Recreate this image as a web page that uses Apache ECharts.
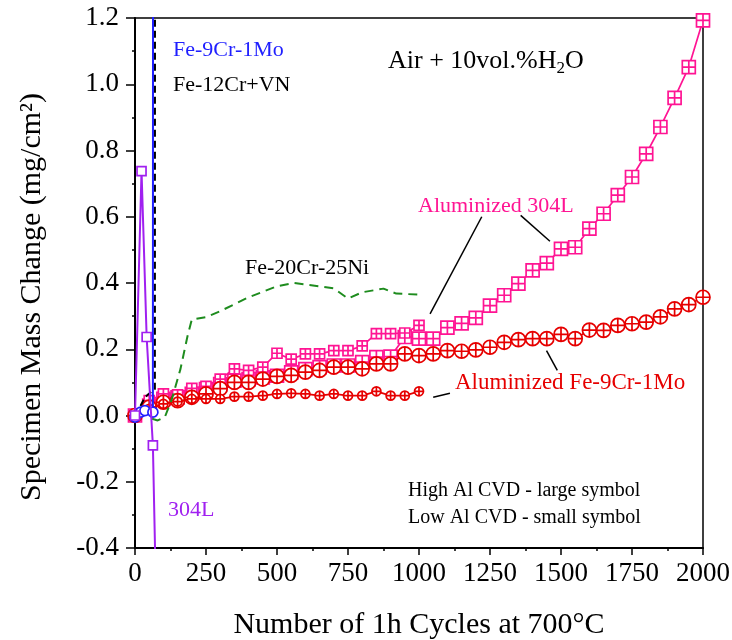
<!DOCTYPE html>
<html>
<head>
<meta charset="utf-8">
<script src="https://cdn.jsdelivr.net/npm/echarts@6/dist/echarts.min.js"></script>
<style>
  html, body { margin: 0; padding: 0; background: #fff; }
  #chart { width: 732px; height: 640px; }
</style>
</head>
<body>
<div id="chart"></div>
<script>
//------------------- data -------------------
var cyclesLong = [0, 50, 100, 150, 200, 250, 300, 350, 400, 450, 500, 550, 600, 650, 700, 750, 800, 850, 900, 950,
                  1000, 1050, 1100, 1150, 1200, 1250, 1300, 1350, 1400, 1450, 1500, 1550, 1600, 1650, 1700, 1750,
                  1800, 1850, 1900, 1950, 2000];
var cyclesShort = [0, 50, 100, 150, 200, 250, 300, 350, 400, 450, 500, 550, 600, 650, 700, 750, 800, 850, 900, 950, 1000];

// aluminized 304L, high Al (large squares) / low Al (small squares)
var al304High = [0.0, 0.03, 0.05, 0.055, 0.065, 0.08, 0.095, 0.105, 0.11, 0.115, 0.12, 0.13, 0.14, 0.146, 0.151, 0.151,
                 0.161, 0.176, 0.178, 0.237, 0.232, 0.232, 0.265, 0.278, 0.295, 0.332, 0.363, 0.398, 0.438, 0.46,
                 0.503, 0.508, 0.564, 0.609, 0.665, 0.72, 0.79, 0.871, 0.959, 1.052, 1.193];
var al304Low = [0.0, 0.045, 0.065, 0.062, 0.082, 0.088, 0.11, 0.141, 0.136, 0.146, 0.188, 0.17, 0.186, 0.186, 0.196,
                0.196, 0.21, 0.247, 0.247, 0.249, 0.272];

// aluminized Fe-9Cr-1Mo, high Al (large circles) / low Al (small circles)
var alFe9High = [0.0, 0.025, 0.04, 0.045, 0.055, 0.065, 0.081, 0.1, 0.1, 0.11, 0.118, 0.121, 0.131, 0.136, 0.146, 0.146,
                 0.141, 0.156, 0.156, 0.186, 0.181, 0.186, 0.196, 0.194, 0.198, 0.206, 0.221, 0.229, 0.232, 0.232,
                 0.245, 0.232, 0.258, 0.257, 0.272, 0.277, 0.282, 0.298, 0.322, 0.335, 0.357];
var alFe9Low = [0.0, 0.02, 0.035, 0.042, 0.05, 0.05, 0.05, 0.057, 0.057, 0.06, 0.065, 0.067, 0.065, 0.06, 0.065, 0.06,
                0.06, 0.073, 0.06, 0.06, 0.073];

// uncoated alloys
var fe9Cycles = [0, 20, 35, 63, 64];
var fe9Mass = [-0.005, 0.01, 0.015, 0.01, 3.0];
var fe12Cycles = [0, 20, 35, 48, 70, 71];
var fe12Mass = [0.0, 0.03, 0.055, 0.065, 0.08, 3.0];
var ss304Cycles = [0, 23, 41, 63, 85];
var ss304Mass = [0.0, 0.738, 0.237, -0.09, -1.0];
var fe20Cycles = [60, 80, 105, 130, 160, 185, 200, 250, 300, 400, 500, 560, 650, 700, 750, 800, 875, 920, 1000];
var fe20Mass = [-0.01, -0.015, -0.005, 0.05, 0.14, 0.24, 0.29, 0.297, 0.315, 0.357, 0.39, 0.40, 0.39, 0.384, 0.353,
                0.372, 0.383, 0.368, 0.365];

//------------------- helpers -------------------
function pairs(xs, ys) {
  var out = [];
  for (var i = 0; i < xs.length; i++) out.push([xs[i], ys[i]]);
  return out;
}

var PINK = '#ff1493', RED = '#e60000', BLUE = '#1f1fff', PURPLE = '#a020f0', GREEN = '#1e8c1e';
var FONT = '"Liberation Serif", "Times New Roman", serif';
var SQ_PLUS = 'path://M0,0L20,0L20,20L0,20Z M10,0L10,20 M0,10L20,10';
var CIRC_PLUS = 'path://M20,10A10,10,0,1,1,0,10A10,10,0,1,1,20,10Z M10,0L10,20 M0,10L20,10';

function markedSeries(name, data, color, symbol, size, z) {
  return {
    name: name, type: 'line', data: data, z: z,
    symbol: symbol, symbolSize: size, symbolKeepAspect: true,
    itemStyle: { color: '#fff', borderColor: color, borderWidth: 1.7 },
    lineStyle: { color: color, width: 1.7 },
    emphasis: { disabled: true }, animation: false
  };
}

//------------------- options -------------------
var leaderLines = [
  [{ coord: [1221, 0.6] }, { coord: [1039, 0.307] }],
  [{ coord: [1358, 0.604] }, { coord: [1461, 0.526] }],
  [{ coord: [1449, 0.196] }, { coord: [1487, 0.136] }],
  [{ coord: [1050, 0.055] }, { coord: [1109, 0.067] }]
];

var series = [
  markedSeries('Aluminized 304L high Al', pairs(cyclesLong, al304High), PINK, SQ_PLUS, 13, 2),
  markedSeries('Aluminized 304L low Al', pairs(cyclesShort, al304Low), PINK, SQ_PLUS, 10, 3),
  markedSeries('Aluminized Fe-9Cr-1Mo high Al', pairs(cyclesLong, alFe9High), RED, CIRC_PLUS, 14, 4),
  markedSeries('Aluminized Fe-9Cr-1Mo low Al', pairs(cyclesShort, alFe9Low), RED, CIRC_PLUS, 9, 5),
  {
    name: 'Fe-20Cr-25Ni', type: 'line', data: pairs(fe20Cycles, fe20Mass), z: 6,
    symbol: 'none', lineStyle: { color: GREEN, width: 2, type: [9, 6] }, animation: false
  },
  {
    name: 'Fe-12Cr+VN', type: 'line', data: pairs(fe12Cycles, fe12Mass), z: 7,
    symbol: 'none', lineStyle: { color: '#000', width: 2, type: [7, 4] }, animation: false
  },
  markedSeries('Fe-9Cr-1Mo', pairs(fe9Cycles, fe9Mass), BLUE, 'circle', 10, 8),
  markedSeries('304L', pairs(ss304Cycles, ss304Mass), PURPLE, 'rect', 9, 9),
  {
    name: 'leaders', type: 'line', data: [], z: 10, animation: false,
    markLine: {
      silent: true, symbol: 'none', animation: false,
      label: { show: false },
      lineStyle: { color: '#000', width: 1.5, type: 'solid' },
      data: leaderLines
    }
  }
];
series[6].lineStyle.width = 2;
series[7].lineStyle.width = 2;

function txt(x, y, text, color, size) {
  return {
    type: 'text', x: x, y: y, z: 100,
    style: { text: text, fill: color, font: size + 'px ' + FONT, textVerticalAlign: 'middle' }
  };
}

var option = {
  backgroundColor: '#fff',
  animation: false,
  grid: {
    left: 135, right: 29, top: 18, bottom: 92, show: true, borderColor: '#000', borderWidth: 1.5,
    outerBoundsMode: 'none', containLabel: false
  },
  xAxis: {
    type: 'value', min: 0, max: 2000, interval: 250,
    name: 'Number of 1h Cycles at 700°C', nameLocation: 'middle', nameGap: 62,
    nameTextStyle: { fontFamily: FONT, fontSize: 30, color: '#000' },
    axisLine: { onZero: false, lineStyle: { color: '#000', width: 2 } },
    axisTick: { length: 7, inside: false, lineStyle: { color: '#000', width: 1.5 } },
    minorTick: { show: true, splitNumber: 2, length: 3, lineStyle: { color: '#000', width: 1.5 } },
    splitLine: { show: false },
    axisLabel: {
      margin: 12, fontFamily: FONT, fontSize: 27, color: '#000',
      formatter: function (v) { return String(v); }
    }
  },
  yAxis: {
    type: 'value', min: -0.4, max: 1.2, interval: 0.2,
    name: 'Specimen Mass Change (mg/cm²)', nameLocation: 'middle', nameGap: 88,
    nameTextStyle: { fontFamily: FONT, fontSize: 30, color: '#000', padding: [0, 28, 0, 0] },
    axisLine: { onZero: false, lineStyle: { color: '#000', width: 2 } },
    axisTick: { length: 9, inside: false, lineStyle: { color: '#000', width: 1.5 } },
    minorTick: { show: true, splitNumber: 2, length: 3, lineStyle: { color: '#000', width: 1.5 } },
    splitLine: { show: false },
    axisLabel: {
      margin: 16, fontFamily: FONT, fontSize: 27, color: '#000',
      formatter: function (v) { return Math.abs(v) < 1e-9 ? '0.0' : v.toFixed(1); }
    }
  },
  series: series,
  graphic: [
    txt(173, 50, 'Fe-9Cr-1Mo', BLUE, 22),
    txt(173, 85, 'Fe-12Cr+VN', '#000', 22),
    {
      type: 'text', x: 388, y: 61, z: 100,
      style: {
        text: '{a|Air + 10vol.%H}{s|2}{a|O}', textVerticalAlign: 'middle',
        rich: {
          a: { fontFamily: FONT, fontSize: 26, fill: '#000', color: '#000' },
          s: { fontFamily: FONT, fontSize: 17, fill: '#000', color: '#000', padding: [15, 0, 0, 0] }
        }
      }
    },
    txt(418, 206, 'Aluminized 304L', PINK, 22),
    txt(245, 268, 'Fe-20Cr-25Ni', '#000', 22),
    txt(455, 383, 'Aluminized Fe-9Cr-1Mo', RED, 23),
    txt(168, 510, '304L', PURPLE, 22),
    txt(408, 491, 'High Al CVD - large symbol', '#000', 20),
    txt(408, 518, 'Low Al CVD - small symbol', '#000', 20)
  ]
};

echarts.init(document.getElementById('chart'), null, { renderer: 'canvas' }).setOption(option);
</script>
</body>
</html>
